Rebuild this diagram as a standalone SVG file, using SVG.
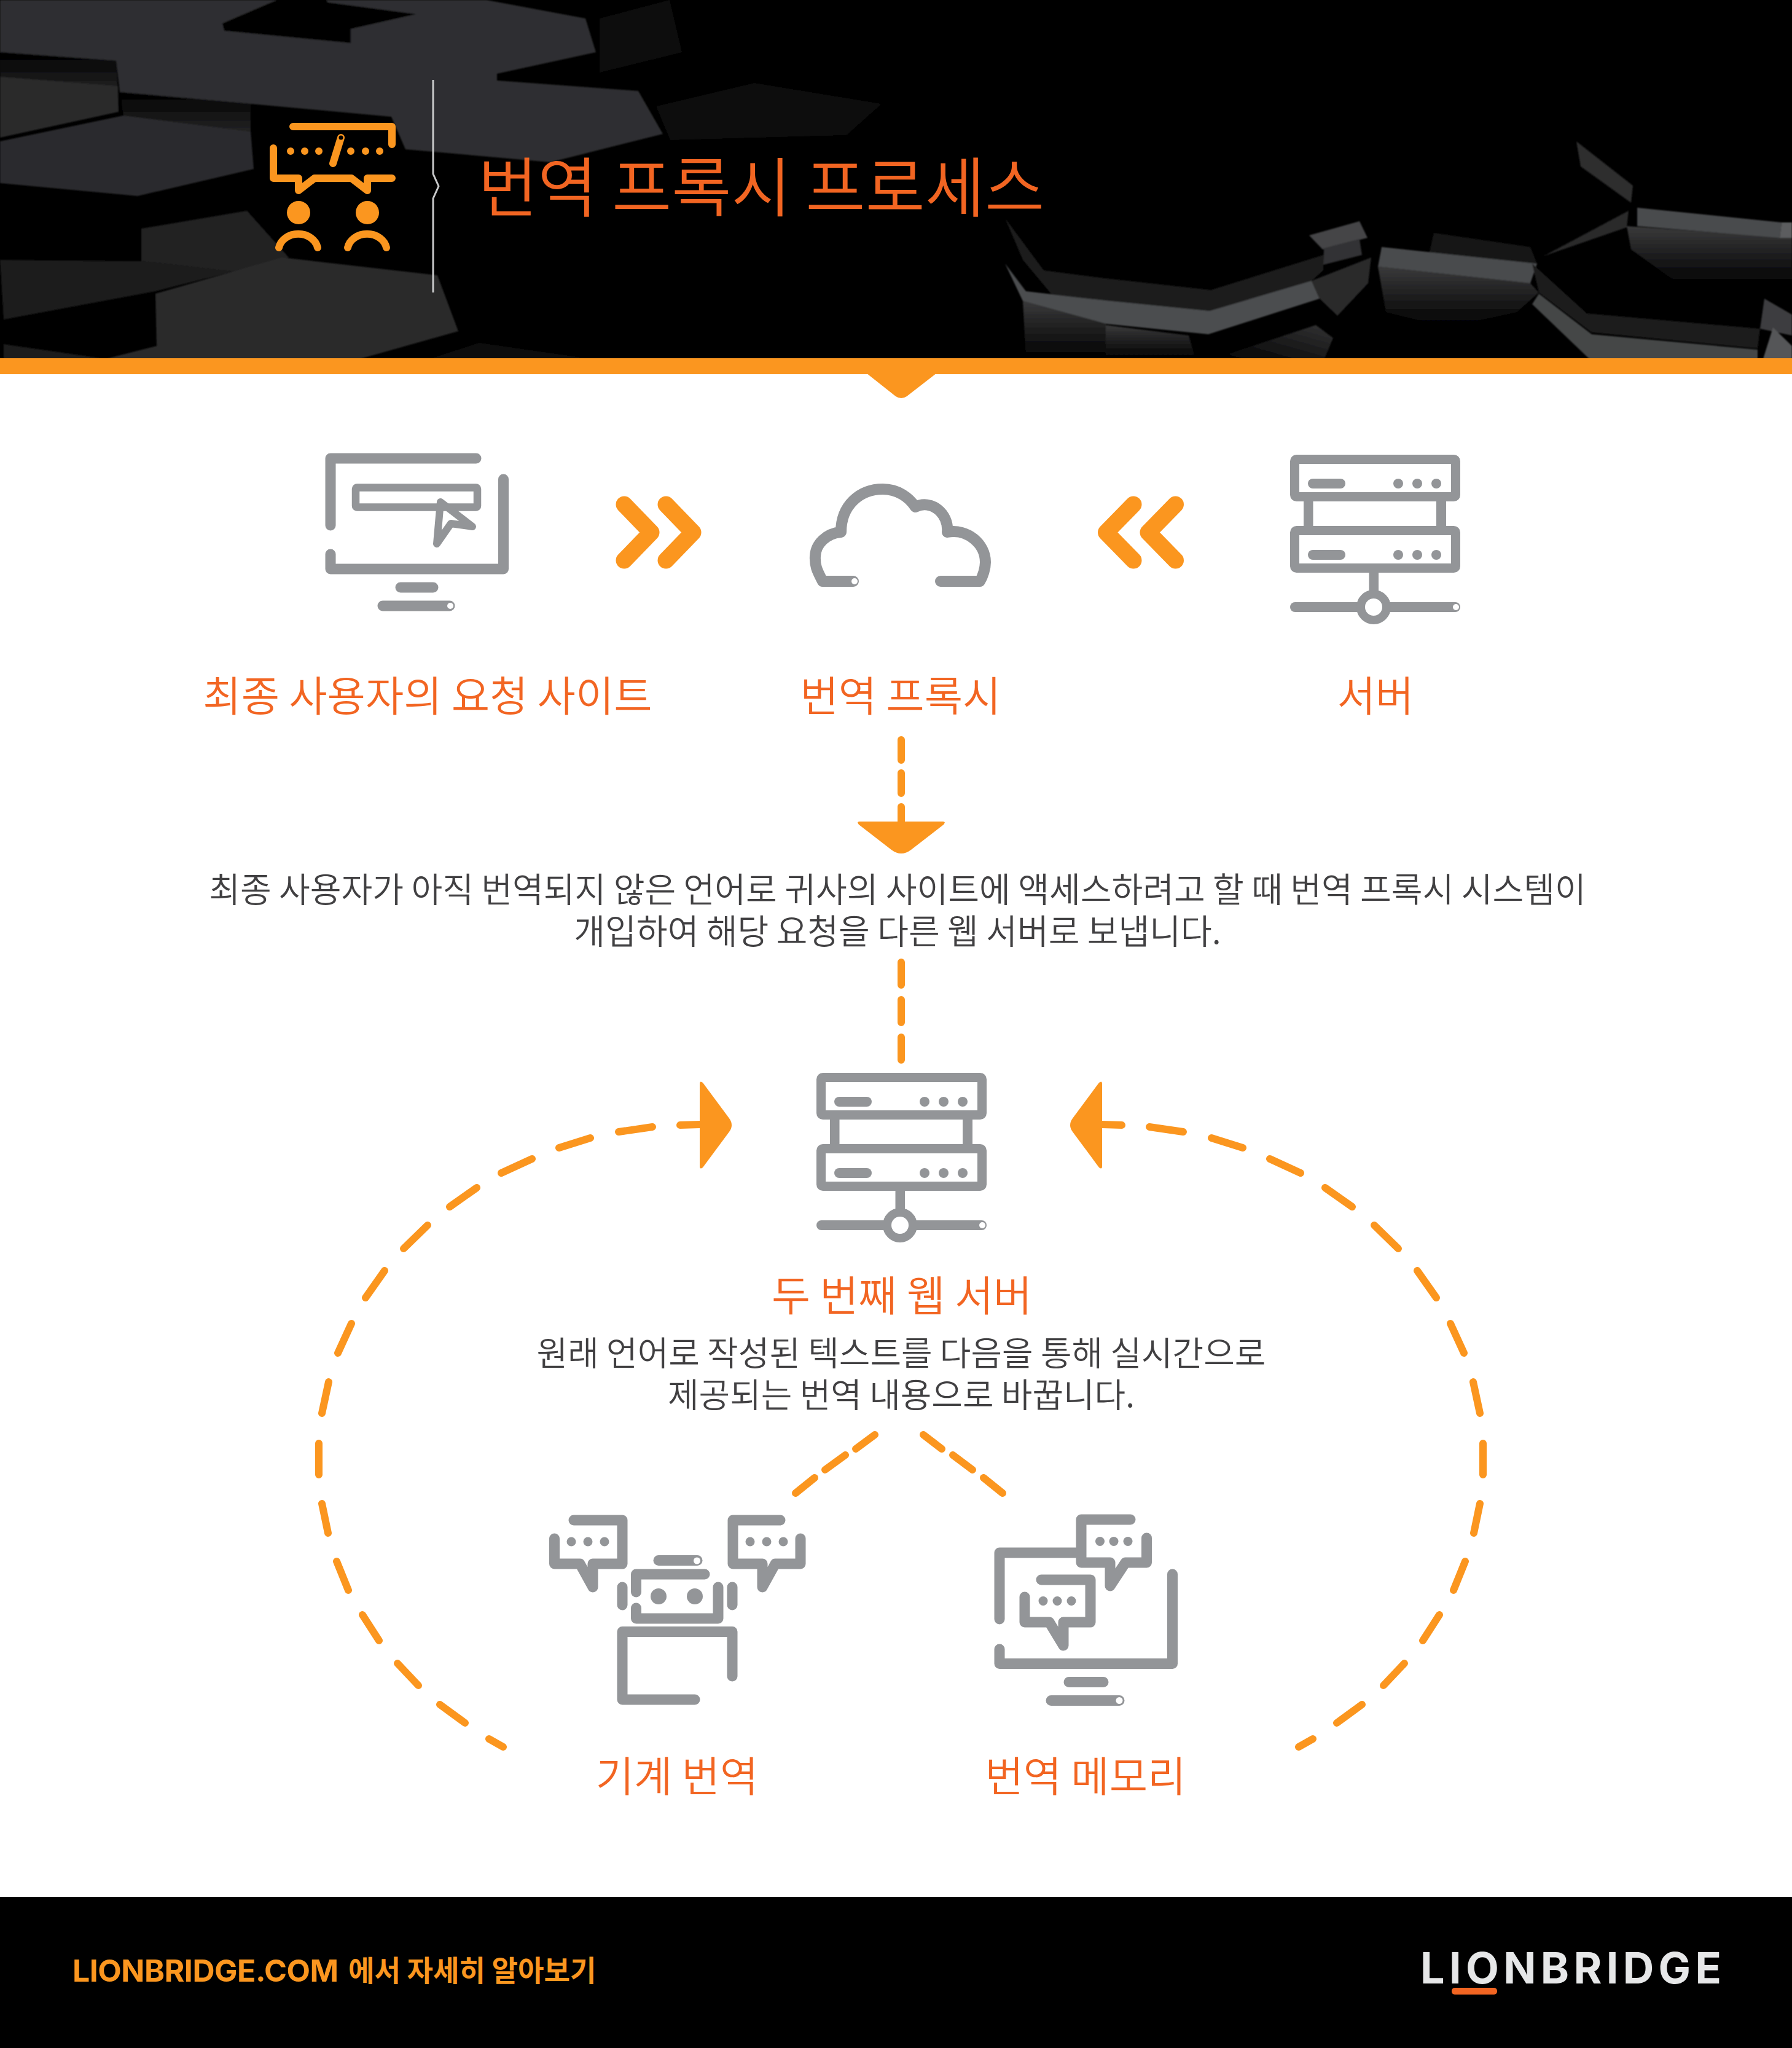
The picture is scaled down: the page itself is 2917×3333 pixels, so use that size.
<svg xmlns="http://www.w3.org/2000/svg" width="2917" height="3333" viewBox="0 0 2917 3333">
<style>
text{font-family:"Noto Sans CJK KR","Noto Sans",sans-serif}
.lab{font-size:67.8px;fill:#f26522;text-anchor:middle;font-weight:350}
.body{font-size:55px;fill:#414042;text-anchor:middle;font-weight:350}
.g{fill:none;stroke:#939598;stroke-width:17;stroke-linecap:round;stroke-linejoin:round}
.gf{fill:#939598}
.o{fill:none;stroke:#fb961f;stroke-width:12;stroke-linecap:round;stroke-linejoin:round}
.of{fill:#fb961f}
.ch{fill:none;stroke:#fb961f;stroke-width:27;stroke-linecap:round;stroke-linejoin:round}
.ic{fill:none;stroke:#fb961f;stroke-width:12;stroke-linecap:round;stroke-linejoin:round}
.h{fill:#fff}
</style>
<defs>
<linearGradient id="sheen" x1="0" y1="0" x2="0" y2="1"><stop offset="0" stop-color="#3a3a3b"/><stop offset="1" stop-color="#000"/></linearGradient>
<linearGradient id="shade" x1="0" y1="0" x2="0" y2="1"><stop offset="0" stop-color="#000"/><stop offset="1" stop-color="#232324"/></linearGradient>
<linearGradient id="rise" x1="0" y1="1" x2="1" y2="0"><stop offset="0" stop-color="#000"/><stop offset="1" stop-color="#333334"/></linearGradient>
<filter id="soft" x="-2%" y="-2%" width="104%" height="104%"><feGaussianBlur stdDeviation="1.200"/></filter>
<g id="server">
<rect x="2107.5" y="747.5" width="262" height="61" rx="3" fill="none" stroke="#939598" stroke-width="15"/>
<rect x="2107.5" y="863.5" width="262" height="61" rx="3" fill="none" stroke="#939598" stroke-width="15"/>
<rect x="2122" y="816" width="15.500" height="40" class="gf"/>
<rect x="2338" y="816" width="16" height="40" class="gf"/>
<rect x="2129" y="779" width="61" height="16" rx="8" class="gf"/>
<rect x="2129" y="895" width="61" height="16" rx="8" class="gf"/>
<circle cx="2276" cy="787" r="8" class="gf"/><circle cx="2307" cy="787" r="8" class="gf"/><circle cx="2338" cy="787" r="8" class="gf"/>
<circle cx="2276" cy="903" r="8" class="gf"/><circle cx="2307" cy="903" r="8" class="gf"/><circle cx="2338" cy="903" r="8" class="gf"/>
<rect x="2228.500" y="932" width="15.500" height="36" class="gf"/>
<rect x="2100" y="980" width="277" height="16" rx="8" class="gf"/>
<circle cx="2236" cy="988" r="21" fill="#fff" stroke="#939598" stroke-width="14"/>
<circle cx="2370" cy="988" r="5" class="h"/>
</g>
</defs>

<rect width="2917" height="3333" fill="#fff"/>

<g id="header-background">
<rect width="2917" height="584" fill="#000"/>
<g filter="url(#soft)">
<polygon fill="#2e2f30" points="0,0 792,0 953,30 970,85 809,120 809,131 1039,148 1079,218 896,264 660,243 637,190 408,169 195,150 189,99 0,85"/>
<polygon fill="#000" points="362,38 534,4 677,23 571,47 571,70 365,50"/>
<polygon fill="#000" points="528,-4 534,4 362,38 460,-4"/>
<polygon fill="url(#shade)" points="0,85 189,99 192,150 0,140"/>
<polygon fill="#2a2a2b" points="0,125 192,140 193,182 0,224"/>
<polygon fill="url(#shade)" points="195,150 408,169 408,214 201,188"/>
<polygon fill="#2c2c2d" points="0,230 201,188 408,214 413,275 224,319 0,298"/>
<polygon fill="#232324" points="230,372 402,343 470,419 379,442 230,425"/>
<polygon fill="#2b2b2c" points="253,478 459,419 712,448 746,539 586,584 172,584 255,563"/>
<polygon fill="#1d1d1d" points="0,423 230,425 379,442 253,474 6,520"/>
<polygon fill="#1a1a1a" points="6,560 172,584 6,584"/>
<polygon fill="#0c0c0c" points="1068,173 1228,135 1435,169 1378,220 1091,228"/>
<polygon fill="#0e0e0e" points="976,30 1090,0 1110,85 976,118"/>
<polygon fill="#111" points="780,558 960,584 700,584"/>
<polygon fill="#1e1e1e" points="1636,355 1699,440 1800,453 1800,489 1711,478 1665,423"/>
<polygon fill="#4c4d4f" points="1636,429 1670,474 1800,489 1800,527 1665,490"/>
<polygon fill="url(#sheen)" points="1665,490 1800,527 1800,584 1670,584"/>
<polygon fill="#1e1e1e" points="1800,453 1971,472 2154,415 2154,440 2135,457 1969,506 1800,489"/>
<polygon fill="#4c4d4f" points="1800,489 1969,506 2135,457 2148,486 1967,544 1800,527"/>
<polygon fill="#181818" points="2334,379 2491,402 2502,429 2327,410"/>
<polygon fill="#2a2a2b" points="2135,457 2232,419 2227,461 2177,514 2148,486"/>
<polygon fill="#444546" points="2131,383 2213,360 2226,387 2153,406"/>
<polygon fill="#333334" points="2155,404 2213,389 2217,415 2154,431"/>
<polygon fill="url(#sheen)" points="2243,434 2491,461 2505,476 2469,508 2356,533 2256,508"/>
<polygon fill="#4a4b4d" points="2249,402 2502,429 2491,461 2243,434"/>
<polygon fill="url(#sheen)" points="2648,368 2917,387 2917,465 2726,457 2655,406"/>
<polygon fill="#4a4b4d" points="2665,338 2900,362 2897,387 2665,368"/>
<polygon fill="#5c5d5f" points="2900,362 2917,362 2917,387 2897,387"/>
<polygon fill="#2d2d2e" points="2566,230 2658,302 2655,330 2573,271"/>
<polygon fill="#2a2a2b" points="2512,417 2651,343 2648,370"/>
<polygon fill="#1d1d1d" points="2494,429 2583,510 2865,535 2861,567 2591,541 2505,476"/>
<polygon fill="#454647" points="2494,495 2505,478 2591,544 2861,569 2861,584 2587,584"/>
<polygon fill="#3d3e40" points="2872,486 2917,512 2917,546 2865,535"/>
<polygon fill="#555658" points="2886,533 2917,563 2917,584 2870,584"/>
<polygon fill="url(#rise)" points="1975,584 2142,529 2170,550 2156,584"/>
<polygon fill="url(#sheen)" points="1800,529 1935,546 1946,584 1800,584"/>
</g>
</g>
<g id="header-band">
<rect y="583" width="2917" height="26" class="of"/>
<path d="M1410 607H1525L1476 645Q1467 651 1458 645Z" class="of"/>
</g>

<g id="title-icon">
<path class="ic" d="M477 206H638V235"/>
<path class="ic" d="M445 241V290H486V310L512 290H572L598 310V290H638"/>
<path class="ic" d="M542 266L555 224"/>
<circle cx="555" cy="224" r="3.500" fill="#000"/>
<circle cx="473" cy="246" r="6" class="of"/><circle cx="496" cy="246" r="6" class="of"/><circle cx="519" cy="246" r="6" class="of"/>
<circle cx="571" cy="246" r="6" class="of"/><circle cx="595" cy="246" r="6" class="of"/><circle cx="618" cy="246" r="6" class="of"/>
<circle cx="486" cy="346" r="19" class="of"/><circle cx="598" cy="346" r="19" class="of"/>
<path class="ic" d="M454 403A32 27 0 0 1 517 403"/>
<path class="ic" d="M566 403A32 27 0 0 1 629 403"/>
</g>
<path id="title-separator" d="M705 130V283L714 303L705 323V476" fill="none" stroke="#c8c9ca" stroke-width="3"/>
<text id="title" x="778" y="344" font-size="105.700" font-weight="350" fill="#f26522">번역 프록시 프로세스</text>

<g id="connectors">
<g id="top-chevrons">
<path class="ch" d="M1016 821L1060 866.500L1016 912"/>
<path class="ch" d="M1084 821L1128 866.500L1084 912"/>
<path class="ch" d="M1845 821L1800.500 866.500L1845 912"/>
<path class="ch" d="M1913.500 821L1869 866.500L1913.500 912"/>
</g>
<g id="proxy-to-text">
<path class="o" d="M1467 1204V1237M1467 1258V1291M1467 1313V1340"/>
<path class="of" d="M1399 1337H1535Q1540 1337 1536 1342L1483 1383Q1467 1395 1451 1383L1398 1342Q1394 1337 1399 1337Z"/>
</g>
<path id="text-to-server" class="o" d="M1467 1566V1603M1467 1627V1664M1467 1688V1725"/>
<g id="loop-left">
<path class="o" d="M1107 1831L1139 1830M1062 1834L1007 1842M961 1852L910 1868M866 1886L816 1909M776 1933L732 1964M696 1994L657 2032M626 2068L595 2112M572 2154L550 2202M535 2249L524 2300M519 2349V2400M524 2447L534 2495M548 2541L567 2588M590 2628L617 2670M647 2707L681 2743M716 2774L757 2804M796 2830L819 2843"/>
<path class="of" d="M1139 1764Q1139 1758 1144 1762L1187 1820Q1195 1831 1187 1842L1144 1900Q1139 1904 1139 1898Z"/>
</g>
<g id="loop-right">
<path class="o" d="M1826 1831L1794 1830M1871 1834L1926 1842M1972 1852L2023 1868M2067 1886L2117 1909M2157 1933L2201 1964M2237 1994L2276 2032M2307 2068L2338 2112M2361 2154L2383 2202M2398 2249L2409 2300M2414 2349V2400M2409 2447L2399 2495M2385 2541L2366 2588M2343 2628L2316 2670M2286 2707L2252 2743M2217 2774L2176 2804M2137 2830L2114 2843"/>
<path class="of" d="M1794 1764Q1794 1758 1789 1762L1746 1820Q1738 1831 1746 1842L1789 1900Q1794 1904 1794 1898Z"/>
</g>
<path id="server-to-mt" class="o" d="M1424 2335L1393 2358M1376 2368L1343 2392M1326 2405L1295 2430"/>
<path id="server-to-tm" class="o" d="M1503 2335L1533 2358M1551 2368L1583 2392M1601 2405L1632 2430"/>
</g>

<g id="node-end-user-site">
<path class="g" d="M775 746H538V855"/>
<path class="g" d="M538 902V926H819.500V780"/>
<rect x="579" y="793.500" width="198" height="32" rx="2" fill="none" stroke="#939598" stroke-width="12.500"/>
<path d="M717 817L711 885L734 852L769 857Z" fill="none" stroke="#939598" stroke-width="12" stroke-linejoin="round"/>
<path class="g" d="M652 956H705M623 986H732"/>
<circle cx="733" cy="986" r="5" class="h"/>
<text class="lab" x="696" y="1158">최종 사용자의 요청 사이트</text>
</g>

<g id="node-translation-proxy">
<path d="M1389 946H1339C1331 930 1326 922 1327 905C1328 885 1345 868 1369 866C1369 822 1400 796 1437 796C1462 796 1480 810 1490 825C1515 812 1545 835 1542 866C1575 860 1604 885 1604 915C1604 925 1600 938 1595 946H1531" fill="none" stroke="#939598" stroke-width="18" stroke-linecap="round" stroke-linejoin="round"/>
<circle cx="1391" cy="946" r="5" class="h"/>
<text class="lab" x="1466" y="1158">번역 프록시</text>
</g>

<g id="node-server">
<use href="#server"/>
<text class="lab" x="2239" y="1158">서버</text>
</g>

<text id="explain-1" class="body" style="font-size:55.2px"><tspan x="1461" y="1468">최종 사용자가 아직 번역되지 않은 언어로 귀사의 사이트에 액세스하려고 할 때 번역 프록시 시스템이</tspan><tspan x="1461" y="1536">개입하여 해당 요청을 다른 웹 서버로 보냅니다.</tspan></text>

<g id="node-second-web-server">
<use href="#server" transform="translate(-771 1006)"/>
<text class="lab" x="1468" y="2134" style="font-size:68.500px">두 번째 웹 서버</text>
<text class="body"><tspan x="1467" y="2222">원래 언어로 작성된 텍스트를 다음을 통해 실시간으로</tspan><tspan x="1467" y="2290">제공되는 번역 내용으로 바꿉니다.</tspan></text>
</g>

<g id="node-machine-translation">
<path class="g" d="M934 2474H1013V2545H965V2583L944 2545H902.500V2504"/>
<circle cx="930" cy="2509" r="7.500" class="gf"/><circle cx="957" cy="2509" r="7.500" class="gf"/><circle cx="984" cy="2509" r="7.500" class="gf"/>
<path class="g" d="M1270 2474H1193V2545H1241V2583L1262 2545H1303V2504"/>
<circle cx="1221" cy="2509" r="7.500" class="gf"/><circle cx="1248" cy="2509" r="7.500" class="gf"/><circle cx="1275" cy="2509" r="7.500" class="gf"/>
<path class="g" d="M1072 2539.500H1135"/>
<circle cx="1134.500" cy="2540" r="5.500" class="h"/>
<path class="g" d="M1147 2562H1035.500V2591M1035.500 2617V2634H1169V2583"/>
<circle cx="1072" cy="2598" r="13" class="gf"/><circle cx="1131" cy="2598" r="13" class="gf"/>
<path class="g" d="M1013 2583V2612M1192 2583V2612"/>
<path class="g" d="M1192 2728V2655.500H1013V2766H1131"/>
<text class="lab" x="1102" y="2916">기계 번역</text>
</g>

<g id="node-translation-memory">
<path class="g" d="M1751 2527H1627V2635M1627 2684V2707.500H1908.500V2562"/>
<path class="g" d="M1740 2737.500H1796M1711 2767.500H1822"/>
<circle cx="1822" cy="2767.500" r="5.500" class="h"/>
<path class="g" d="M1840 2473H1760V2543H1807V2581L1832 2543H1866.500V2503"/>
<circle cx="1790.500" cy="2508.500" r="7.500" class="gf"/><circle cx="1813" cy="2508.500" r="7.500" class="gf"/><circle cx="1836" cy="2508.500" r="7.500" class="gf"/>
<path class="g" d="M1695 2571H1775V2640H1731V2678L1708 2640H1668V2599"/>
<circle cx="1698" cy="2605.500" r="7.500" class="gf"/><circle cx="1721" cy="2605.500" r="7.500" class="gf"/><circle cx="1744" cy="2605.500" r="7.500" class="gf"/>
<text class="lab" x="1767" y="2916">번역 메모리</text>
</g>

<g id="footer">
<rect y="3087" width="2917" height="246" fill="#000"/>
<text x="118" y="3225" font-size="50" font-weight="700" fill="#fb961f" style="font-family:Inter,'Noto Sans CJK KR',sans-serif" textLength="433">LIONBRIDGE.COM</text>
<text x="567" y="3224" font-size="46.200" font-weight="700" fill="#fb961f">에서 자세히 알아보기</text>
<text x="2312" y="3228" font-size="70" font-weight="700" fill="#e6e7e8" style="font-family:Inter,'Noto Sans',sans-serif" textLength="490">LIONBRIDGE</text>
<rect x="2363" y="3235" width="74" height="11" rx="5" fill="#f26522"/>
</g>
</svg>
